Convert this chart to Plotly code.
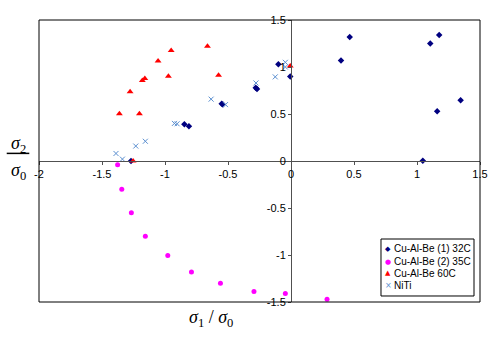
import plotly.graph_objects as go

# Data
blue_x = [-1.27, -0.846, -0.81, -0.55, -0.54, -0.28, -0.27, -0.10, -0.006, 0.397, 0.466, 1.105, 1.176, 1.16, 1.346, 1.046]
blue_y = [0.0, 0.39, 0.37, 0.61, 0.60, 0.78, 0.765, 1.03, 0.90, 1.07, 1.32, 1.25, 1.34, 0.53, 0.645, 0.003]

mag_x = [-1.376, -1.343, -1.267, -1.156, -0.978, -0.79, -0.56, -0.294, -0.045, 0.286]
mag_y = [-0.04, -0.30, -0.55, -0.80, -1.005, -1.18, -1.30, -1.387, -1.41, -1.47]

red_x = [-0.663, -0.951, -1.055, -1.16, -1.18, -0.973, -0.575, -1.277, -1.362, -1.203, -1.253, -0.006]
red_y = [1.22, 1.175, 1.065, 0.878, 0.857, 0.902, 0.913, 0.736, 0.502, 0.502, 0.0, 1.01]

niti_x = [-1.389, -1.338, -1.232, -1.156, -0.925, -0.904, -0.634, -0.52, -0.278, -0.125, -0.045, -0.045]
niti_y = [0.08, 0.02, 0.159, 0.21, 0.40, 0.396, 0.658, 0.60, 0.83, 0.895, 1.05, 1.0]

names = ["Cu-Al-Be (1) 32C", "Cu-Al-Be (2) 35C", "Cu-Al-Be 60C", "NiTi"]
colors = ["#000080", "#FF00FF", "#FF0000", "#5B8FD0"]
glyphs = ["◆", "●", "▲", "×"]
xticks = [-2, -1.5, -1, -0.5, 0, 0.5, 1, 1.5]
yticks = [-1.5, -1, -0.5, 0, 0.5, 1, 1.5]

X_RANGE = [-2, 1.5]
Y_RANGE = [-1.5, 1.5]

fig = go.Figure()
fig.add_trace(go.Scatter(x=blue_x, y=blue_y, mode="markers", name=names[0],
                         marker=dict(symbol="diamond", size=5, color=colors[0])))
fig.add_trace(go.Scatter(x=mag_x, y=mag_y, mode="markers", name=names[1],
                         marker=dict(symbol="circle", size=5, color=colors[1])))
fig.add_trace(go.Scatter(x=red_x, y=red_y, mode="markers", name=names[2],
                         marker=dict(symbol="triangle-up", size=6, color=colors[2])))
fig.add_trace(go.Scatter(x=niti_x, y=niti_y, mode="markers", name=names[3],
                         marker=dict(symbol="x-thin", size=5, color=colors[3],
                                     line=dict(width=1, color=colors[3]))))

axis_font = dict(family="Liberation Sans, Arial", size=11, color="black")
x_pos = (0 - Y_RANGE[0]) / (Y_RANGE[1] - Y_RANGE[0])
y_pos = (0 - X_RANGE[0]) / (X_RANGE[1] - X_RANGE[0])

fig.update_layout(
    width=500, height=348,
    margin=dict(l=39, r=20, t=20, b=46, autoexpand=False),
    paper_bgcolor="white", plot_bgcolor="white",
    showlegend=False,
    xaxis=dict(range=X_RANGE, tickvals=xticks, ticktext=[f"{v:g}" for v in xticks],
               showgrid=False, zeroline=False, showline=True, linecolor="#505050",
               linewidth=1, ticks="outside", ticklen=3, tickcolor="#505050",
               anchor="free", position=x_pos, tickfont=axis_font),
    yaxis=dict(range=Y_RANGE, tickvals=yticks, ticktext=[f"{v:g}" for v in yticks],
               showgrid=False, zeroline=False, showline=True, linecolor="#505050",
               linewidth=1, ticks="outside", ticklen=3, tickcolor="#505050",
               anchor="free", position=y_pos, tickfont=axis_font),
)

# frame around plot area
fig.add_shape(type="rect", xref="paper", yref="paper", x0=0, y0=0, x1=1, y1=1,
              line=dict(color="black", width=1))

# legend box (compact, like the reference)
fig.add_shape(type="rect", xref="paper", yref="paper", x0=0.7755, y0=0.0213, x1=0.9864, y1=0.2234,
              line=dict(color="black", width=1), fillcolor="white", layer="above")
row_y = [0.188, 0.143, 0.102, 0.057]
for name, col, g, ry in zip(names, colors, glyphs, row_y):
    fig.add_annotation(xref="paper", yref="paper", x=0.7914, y=ry, showarrow=False,
                       text=g, font=dict(family="DejaVu Sans", size=7 if g != "×" else 8, color=col),
                       xanchor="center", yanchor="middle")
    fig.add_annotation(xref="paper", yref="paper", x=0.8005, y=ry, showarrow=False,
                       text=name, font=dict(family="Liberation Sans, Arial", size=10, color="black"),
                       xanchor="left", yanchor="middle")

serif = dict(family="Liberation Serif, Times New Roman", size=18, color="black")
# y-axis label as fraction
fig.add_annotation(xref="paper", yref="paper", x=-0.0465, y=0.56, showarrow=False,
                   text="<i>σ</i><sub>2</sub>", font=serif, xanchor="center", yanchor="middle")
fig.add_annotation(xref="paper", yref="paper", x=-0.0465, y=0.462, showarrow=False,
                   text="<i>σ</i><sub>0</sub>", font=serif, xanchor="center", yanchor="middle")
fig.add_shape(type="line", xref="paper", yref="paper", x0=-0.0732, x1=-0.022, y0=0.527, y1=0.527,
              line=dict(color="black", width=1.5))
# x-axis label
fig.add_annotation(xref="paper", yref="paper", x=0.39, y=-0.057, showarrow=False,
                   text="<i>σ</i><sub>1</sub> / <i>σ</i><sub>0</sub>", font=serif,
                   xanchor="center", yanchor="middle")

fig.write_html("out.html")
